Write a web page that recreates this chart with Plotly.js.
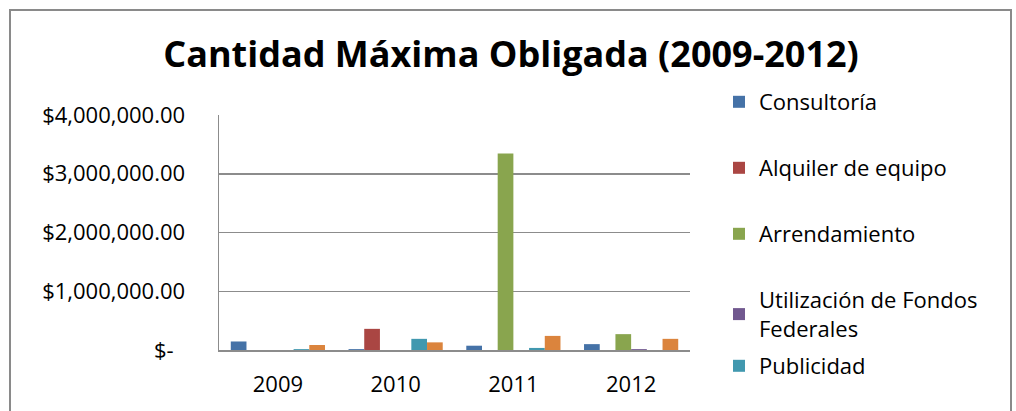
<!DOCTYPE html>
<html><head><meta charset="utf-8">
<script src="https://cdn.plot.ly/plotly-3.0.1.min.js"></script>
<style>html,body{margin:0;padding:0;background:#fff}</style>
</head><body>
<div id="chart" style="width:1016px;height:411px"></div>
<script>
const years = ["2009", "2010", "2011", "2012"];
const seriesNames = ["Consultoría", "Alquiler de equipo", "Arrendamiento", "Utilización de Fondos<br>Federales", "Publicidad", "Otros"];
const consultoria = [145000, 15000, 73000, 100000];
const alquiler = [0, 360000, 0, 0];
const arrendamiento = [0, 0, 3345000, 270000];
const fondosFederales = [0, 0, 0, 15000];
const publicidad = [15000, 190000, 35000, 0];
const otros = [85000, 130000, 240000, 190000];
const tickVals = [0, 1000000, 2000000, 3000000, 4000000];
const tickText = ["$-\u00a0\u00a0", "$1,000,000.00", "$2,000,000.00", "$3,000,000.00", "$4,000,000.00"];
const colors = ["#4572A7", "#AA4643", "#89A54E", "#71588F", "#4198AF", "#DB843D"];

const L = 219, R = 690, T = 115, B = 350, W = 1016, H = 411;
const px = x => (x - L) / (R - L);
const py = y => (B - y) / (B - T);

const values = [consultoria, alquiler, arrendamiento, fondosFederales, publicidad, otros];
const legendIds = ["legend", "legend2", "legend3", "legend4", "legend5", "legend6"];
const traces = values.map((v, i) => ({
  type: "bar", x: years, y: v, name: seriesNames[i],
  marker: {color: colors[i]},
  legend: legendIds[i],
  showlegend: i < 5
}));

const legendTops = [81, 147, 213, 279, 345];
const fontFam = "'Open Sans', sans-serif";
const layout = {
  width: W, height: H,
  margin: {l: L, r: W - R, t: T, b: H - B, pad: 0},
  paper_bgcolor: "#fff", plot_bgcolor: "#fff",
  font: {family: fontFam, color: "#000", size: 22},
  title: {text: "<b>Cantidad Máxima Obligada (2009-2012)</b>", font: {family: fontFam, size: 36, color: "#000"},
          x: 511 / W, xanchor: "center", y: 1 - 54 / H, yanchor: "middle", xref: "container", yref: "container"},
  barmode: "group", bargap: 0.2, bargroupgap: 0,
  xaxis: {type: "category", showline: true, linecolor: "#8c8c8c", linewidth: 1.5, ticks: "",
          showgrid: false, tickfont: {size: 22}, ticklabelstandoff: 14, fixedrange: true},
  yaxis: {range: [0, 4000000], tickvals: tickVals, ticktext: tickText, showgrid: true,
          gridcolor: "#8c8c8c", gridwidth: 1.5, zeroline: false, showline: true, linecolor: "#8c8c8c",
          linewidth: 1.5, ticks: "", tickfont: {size: 22}, ticklabelstandoff: 28, fixedrange: true},
  shapes: [{type: "rect", xref: "paper", yref: "paper", x0: px(10), x1: px(1011), y0: py(440), y1: py(10),
            line: {color: "#8a8a8a", width: 2}, fillcolor: "rgba(0,0,0,0)", layer: "below"}]
};
legendTops.forEach((t, i) => {
  layout[legendIds[i]] = {x: px(719), xanchor: "left", y: py(t), yanchor: "top",
    bgcolor: "rgba(0,0,0,0)", borderwidth: 0, font: {size: 22, family: fontFam}};
});
layout.legend6 = {visible: false};
Plotly.newPlot("chart", traces, layout, {displayModeBar: false, staticPlot: true});
</script>
</body></html>
